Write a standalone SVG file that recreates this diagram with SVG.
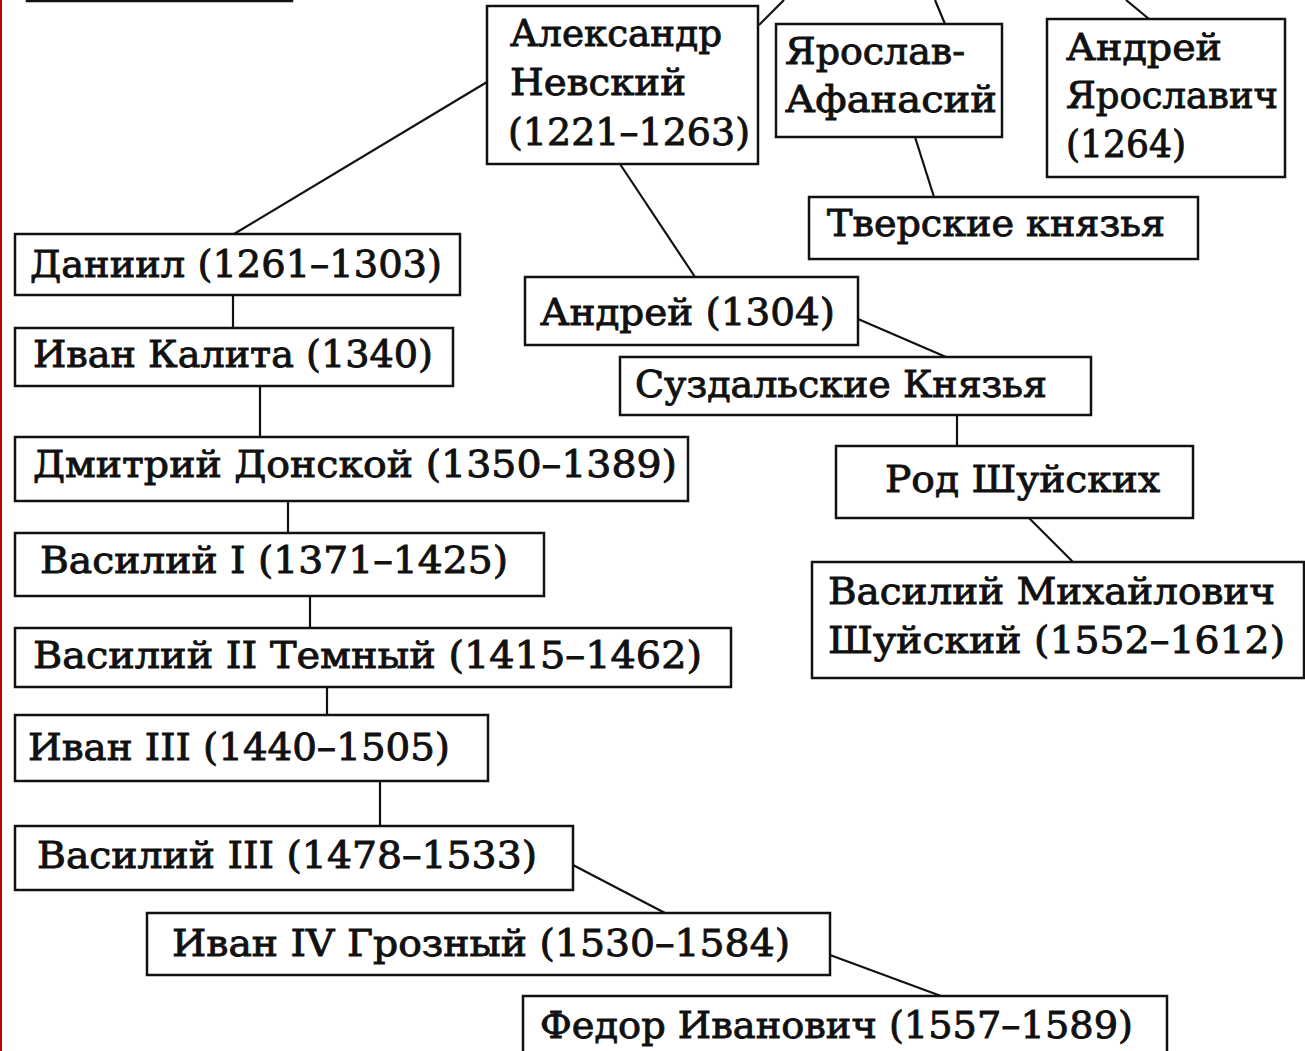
<svg xmlns="http://www.w3.org/2000/svg" width="1305" height="1051" viewBox="0 0 1305 1051">
<style>
.box{fill:#fff;stroke:#111;stroke-width:2.5}
.t{font-family:"DejaVu Serif","Liberation Serif",serif;font-size:37px;font-weight:normal;fill:#111;stroke:#111;stroke-width:0.9}
.ln{stroke:#111;stroke-width:2.2;fill:none}
</style>
<rect x="0" y="0" width="1305" height="1051" fill="#fff"/>
<line x1="1" y1="0" x2="1" y2="1051" stroke="#c00000" stroke-width="2"/>
<g id="connectors">
<line class="ln" x1="759" y1="25" x2="784" y2="0"/>
<line class="ln" x1="487" y1="82" x2="234" y2="234"/>
<line class="ln" x1="620" y1="164" x2="695" y2="277"/>
<line class="ln" x1="945" y1="24" x2="935" y2="0"/>
<line class="ln" x1="915" y1="137" x2="934" y2="197"/>
<line class="ln" x1="1149" y1="19" x2="1126" y2="0"/>
<line class="ln" x1="858" y1="319" x2="946" y2="357"/>
<line class="ln" x1="957" y1="415" x2="957" y2="446"/>
<line class="ln" x1="1029" y1="518" x2="1073" y2="562"/>
<line class="ln" x1="233" y1="295" x2="233" y2="328"/>
<line class="ln" x1="260" y1="386" x2="260" y2="437"/>
<line class="ln" x1="288" y1="501" x2="288" y2="533"/>
<line class="ln" x1="310" y1="596" x2="310" y2="628"/>
<line class="ln" x1="327" y1="687" x2="327" y2="715"/>
<line class="ln" x1="380" y1="781" x2="380" y2="826"/>
<line class="ln" x1="573" y1="865" x2="665" y2="913"/>
<line class="ln" x1="830" y1="955" x2="941" y2="996"/>
</g>
<g id="n-top"><rect class="box" x="27" y="-60" width="265" height="61"/></g>
<g id="n-nevsky"><rect class="box" x="487" y="6" width="271" height="158"/>
<text class="t" x="510" y="46" textLength="212" lengthAdjust="spacingAndGlyphs">Александр</text>
<text class="t" x="510" y="95" textLength="176" lengthAdjust="spacingAndGlyphs">Невский</text>
<text class="t" x="508" y="145" textLength="242" lengthAdjust="spacingAndGlyphs">(1221–1263)</text></g>
<g id="n-yaroslav"><rect class="box" x="776" y="24" width="226" height="113"/>
<text class="t" x="785" y="64" textLength="180" lengthAdjust="spacingAndGlyphs">Ярослав-</text>
<text class="t" x="785" y="112" textLength="212" lengthAdjust="spacingAndGlyphs">Афанасий</text></g>
<g id="n-andrei-yar"><rect class="box" x="1047" y="19" width="238" height="158"/>
<text class="t" x="1066" y="60" textLength="156" lengthAdjust="spacingAndGlyphs">Андрей</text>
<text class="t" x="1066" y="108" textLength="212" lengthAdjust="spacingAndGlyphs">Ярославич</text>
<text class="t" x="1066" y="157" textLength="120" lengthAdjust="spacingAndGlyphs">(1264)</text></g>
<g id="n-tver"><rect class="box" x="809" y="197" width="389" height="62"/>
<text class="t" x="827" y="236" textLength="338" lengthAdjust="spacingAndGlyphs">Тверские князья</text></g>
<g id="n-andrei"><rect class="box" x="525" y="277" width="333" height="68"/>
<text class="t" x="540" y="325" textLength="295" lengthAdjust="spacingAndGlyphs">Андрей (1304)</text></g>
<g id="n-suzdal"><rect class="box" x="620" y="357" width="471" height="58"/>
<text class="t" x="635" y="397" textLength="412" lengthAdjust="spacingAndGlyphs">Суздальские Князья</text></g>
<g id="n-shuisky-rod"><rect class="box" x="836" y="446" width="357" height="72"/>
<text class="t" x="885" y="492" textLength="275" lengthAdjust="spacingAndGlyphs">Род Шуйских</text></g>
<g id="n-vasily-shuisky"><rect class="box" x="812" y="562" width="492" height="116"/>
<text class="t" x="828" y="604" textLength="447" lengthAdjust="spacingAndGlyphs">Василий Михайлович</text>
<text class="t" x="828" y="653" textLength="457" lengthAdjust="spacingAndGlyphs">Шуйский (1552–1612)</text></g>
<g id="n-daniil"><rect class="box" x="15" y="234" width="445" height="61"/>
<text class="t" x="30" y="277" textLength="412" lengthAdjust="spacingAndGlyphs">Даниил (1261–1303)</text></g>
<g id="n-kalita"><rect class="box" x="15" y="328" width="438" height="58"/>
<text class="t" x="33" y="367" textLength="400" lengthAdjust="spacingAndGlyphs">Иван Калита (1340)</text></g>
<g id="n-donskoy"><rect class="box" x="15" y="437" width="673" height="64"/>
<text class="t" x="33" y="477" textLength="644" lengthAdjust="spacingAndGlyphs">Дмитрий Донской (1350–1389)</text></g>
<g id="n-vasily1"><rect class="box" x="15" y="533" width="529" height="63"/>
<text class="t" x="40" y="573" textLength="468" lengthAdjust="spacingAndGlyphs">Василий I (1371–1425)</text></g>
<g id="n-vasily2"><rect class="box" x="15" y="628" width="716" height="59"/>
<text class="t" x="33" y="668" textLength="669" lengthAdjust="spacingAndGlyphs">Василий II Темный (1415–1462)</text></g>
<g id="n-ivan3"><rect class="box" x="15" y="715" width="473" height="66"/>
<text class="t" x="28" y="760" textLength="422" lengthAdjust="spacingAndGlyphs">Иван III (1440–1505)</text></g>
<g id="n-vasily3"><rect class="box" x="15" y="826" width="558" height="64"/>
<text class="t" x="37" y="868" textLength="500" lengthAdjust="spacingAndGlyphs">Василий III (1478–1533)</text></g>
<g id="n-ivan4"><rect class="box" x="147" y="913" width="683" height="62"/>
<text class="t" x="172" y="956" textLength="618" lengthAdjust="spacingAndGlyphs">Иван IV Грозный (1530–1584)</text></g>
<g id="n-fedor"><rect class="box" x="523" y="996" width="644" height="80"/>
<text class="t" x="540" y="1038" textLength="593" lengthAdjust="spacingAndGlyphs">Федор Иванович (1557–1589)</text></g>
</svg>
